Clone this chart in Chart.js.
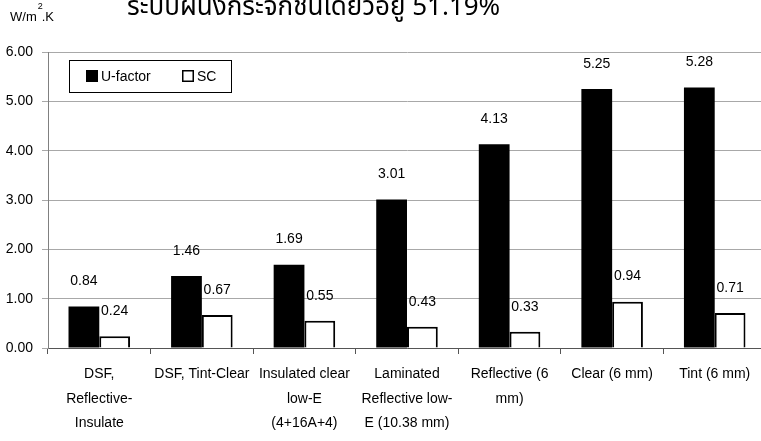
<!DOCTYPE html>
<html>
<head>
<meta charset="utf-8">
<script src="https://cdn.jsdelivr.net/npm/chart.js@4.4.1/dist/chart.umd.min.js"></script>
<style>
  html, body { margin: 0; padding: 0; background: #fff; overflow: hidden; }
  #wrap { position: relative; width: 770px; height: 441px; }
</style>
</head>
<body>
<div id="wrap"><canvas id="c"></canvas></div>
<script>
// Glazing systems compared by U-factor (W/m².K) and shading coefficient
const categories = [
  ["DSF,", "Reflective-", "Insulate"],
  ["DSF, Tint-Clear"],
  ["Insulated clear", "low-E", "(4+16A+4)"],
  ["Laminated", "Reflective low-", "E (10.38 mm)"],
  ["Reflective (6", "mm)"],
  ["Clear (6 mm)"],
  ["Tint (6 mm)"]
];
const uFactor = [0.84, 1.46, 1.69, 3.01, 4.13, 5.25, 5.28];
const shadingCoeff = [0.24, 0.67, 0.55, 0.43, 0.33, 0.94, 0.71];
const seriesNames = ["U-factor", "SC"];
const yTicks = [0, 1, 2, 3, 4, 5, 6];
const titleText = "ระบบผนังกระจกชั้นเดียวอยู่ 51.19%";
const unitText = ["W/m", "2", ".K"];

const FONT = "'Liberation Sans', Arial, sans-serif";

// value labels above each bar
const valueLabels = {
  id: 'valueLabels',
  afterDatasetsDraw(chart) {
    const ctx = chart.ctx;
    ctx.save();
    ctx.font = "14px " + FONT;
    ctx.fillStyle = "#000";
    ctx.textAlign = "center";
    ctx.textBaseline = "middle";
    chart.data.datasets.forEach((ds, i) => {
      const meta = chart.getDatasetMeta(i);
      meta.data.forEach((el, j) => {
        ctx.fillText(ds.data[j].toFixed(2), el.x, el.y - 25);
      });
    });
    ctx.restore();
  }
};

// boxed legend, unit label and heading
const decorations = {
  id: 'decorations',
  afterDraw(chart) {
    const ctx = chart.ctx;
    ctx.save();
    // legend box
    ctx.fillStyle = "#fff";
    ctx.fillRect(69.5, 60.5, 162, 32);
    ctx.strokeStyle = "#000";
    ctx.lineWidth = 1;
    ctx.strokeRect(69.5, 60.5, 162, 32);
    ctx.font = "14px " + FONT;
    ctx.textBaseline = "middle";
    const items = [{ x: 86, ds: 0 }, { x: 182, ds: 1 }];
    items.forEach(it => {
      const ds = chart.data.datasets[it.ds];
      ctx.fillStyle = ds.backgroundColor;
      ctx.fillRect(it.x, 70, 12, 12);
      ctx.strokeStyle = "#000";
      ctx.lineWidth = 1.5;
      ctx.strokeRect(it.x + 0.75, 70.75, 10.5, 10.5);
      ctx.fillStyle = "#000";
      ctx.fillText(ds.label, it.x + 15, 77);
    });
    // unit
    ctx.font = "13px " + FONT;
    ctx.textBaseline = "alphabetic";
    ctx.textAlign = "left";
    ctx.fillText(unitText[0], 10, 21);
    let w = ctx.measureText(unitText[0]).width;
    ctx.font = "9px " + FONT;
    ctx.fillText(unitText[1], 10 + w + 1, 9);
    ctx.font = "13px " + FONT;
    ctx.fillText(unitText[2], 10 + w + 5, 21);
    // heading (runs off the top edge)
    ctx.font = "26px 'Noto Sans Thai', 'Noto Sans', 'DejaVu Sans', sans-serif";
    ctx.fillText(titleText, 127, 15);
    ctx.restore();
  }
};

new Chart(document.getElementById('c'), {
  type: 'bar',
  data: {
    labels: categories,
    datasets: [
      {
        label: seriesNames[0],
        data: uFactor,
        backgroundColor: "#000",
        borderColor: "#000",
        borderWidth: 0
      },
      {
        label: seriesNames[1],
        data: shadingCoeff,
        backgroundColor: "#fff",
        borderColor: "#000",
        borderWidth: 2,
        borderSkipped: 'bottom'
      }
    ]
  },
  options: {
    responsive: true,
    maintainAspectRatio: false,
    animation: false,
    events: [],
    layout: { padding: { left: 0, right: 4, top: 52, bottom: 0 } },
    datasets: { bar: { categoryPercentage: 0.6, barPercentage: 1.0 } },
    plugins: {
      legend: { display: false },
      tooltip: { enabled: false },
      title: { display: false }
    },
    scales: {
      x: {
        afterFit(s) { s.height = 93; },
        border: { display: true, color: "#555", width: 1 },
        grid: { offset: true, drawOnChartArea: false, drawTicks: true, tickLength: 6, color: "#555" },
        ticks: {
          color: "#000",
          font: { family: FONT, size: 14, lineHeight: 1.75 },
          padding: 8,
          maxRotation: 0,
          autoSkip: false
        }
      },
      y: {
        min: 0,
        max: 6,
        afterFit(s) { s.width = 48; },
        afterBuildTicks(s) { s.ticks = yTicks.map(v => ({ value: v })); },
        border: { display: true, color: "#808080", width: 1 },
        grid: { color: "#a8a8a8", lineWidth: 1, drawTicks: true, tickLength: 6 },
        ticks: {
          color: "#000",
          font: { family: FONT, size: 14 },
          padding: 9,
          callback: v => v.toFixed(2)
        }
      }
    }
  },
  plugins: [valueLabels, decorations]
});
</script>
</body>
</html>
